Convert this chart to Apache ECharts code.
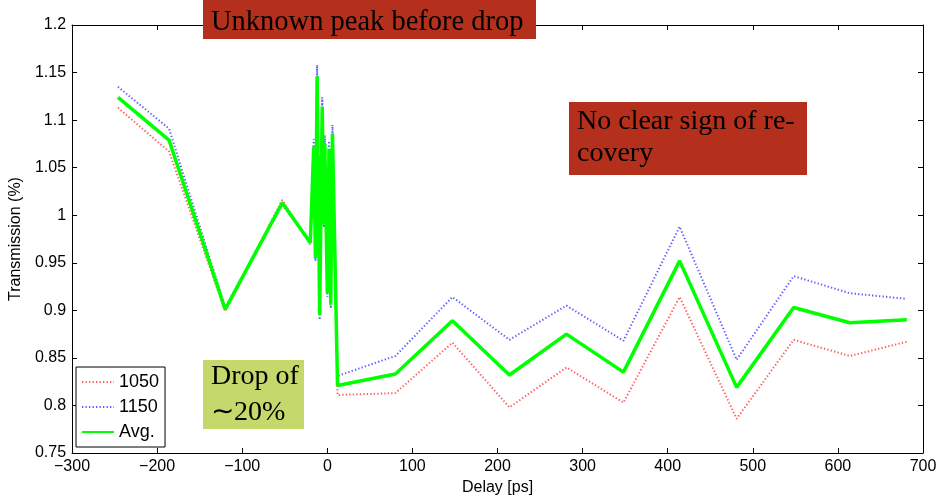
<!DOCTYPE html>
<html>
<head>
<meta charset="utf-8">
<script src="https://cdn.jsdelivr.net/npm/echarts@6/dist/echarts.min.js"></script>
<style>
html,body{margin:0;padding:0;background:#fff;}
#c{width:941px;height:502px;}
</style>
</head>
<body>
<div id="c"></div>
<script>
// Delay values [ps]
const delay = [-246, -186, -120, -53, -20, -16, -14, -12, -9, -6, -4, -3, 0, 2, 4, 6, 12, 80, 147, 214, 281, 348, 414, 481, 548, 614, 681];
// Transmission for 1050
const t1050 = [1.113, 1.067, 0.899, 1.016, 0.969, 1.064, 0.958, 1.135, 0.900, 1.104, 0.993, 1.066, 0.922, 1.062, 0.910, 1.077, 0.811, 0.813, 0.866, 0.798, 0.840, 0.803, 0.914, 0.786, 0.869, 0.852, 0.867];
// Transmission for 1150
const t1150 = [1.135, 1.091, 0.903, 1.011, 0.973, 1.080, 0.952, 1.158, 0.890, 1.124, 0.987, 1.084, 0.914, 1.078, 0.902, 1.095, 0.831, 0.852, 0.914, 0.869, 0.905, 0.868, 0.988, 0.848, 0.936, 0.918, 0.912];
// Average
const tAvg = [1.124, 1.079, 0.901, 1.013, 0.971, 1.072, 0.955, 1.146, 0.895, 1.114, 0.990, 1.075, 0.918, 1.070, 0.906, 1.086, 0.821, 0.833, 0.889, 0.832, 0.875, 0.835, 0.952, 0.819, 0.903, 0.887, 0.890];

const seriesNames = ['1050', '1150', 'Avg.'];
const xTicks = {min: -300, max: 700, step: 100};
const yTicks = {min: 0.75, max: 1.2, step: 0.05};

const annotations = [
  {lines: ['Unknown peak before drop']},
  {lines: ['No clear sign of re-', 'covery']},
  {lines: ['Drop of', '\u223C20%']}
];

const pairs = arr => delay.map((d, i) => [d, arr[i]]);
const axisFont = '"Liberation Sans", Arial, sans-serif';
const serif = '"Liberation Serif", "Times New Roman", serif';

const chart = echarts.init(document.getElementById('c'), null, {renderer: 'canvas'});

const xBase = {
  type: 'value', min: xTicks.min, max: xTicks.max, interval: xTicks.step,
  axisLine: {show: true, onZero: false, lineStyle: {color: '#000', width: 1}},
  axisTick: {show: true, inside: true, length: 5, lineStyle: {color: '#000'}},
  splitLine: {show: false}
};
const yBase = {
  type: 'value', min: yTicks.min, max: yTicks.max, interval: yTicks.step,
  axisLine: {show: true, onZero: false, lineStyle: {color: '#000', width: 1}},
  axisTick: {show: true, inside: true, length: 5, lineStyle: {color: '#000'}},
  splitLine: {show: false}
};

const graphics = [];
function box(x, y, w, h, color, lines, tx, baselines, fs) {
  graphics.push({type: 'rect', left: x, top: y, shape: {width: w, height: h}, style: {fill: color}, z: 100});
  lines.forEach((t, i) => {
    graphics.push({type: 'text', x: tx, y: baselines[i], z: 101,
      style: {text: t, fill: '#000', font: fs + 'px ' + serif, textAlign: 'left', textVerticalAlign: 'bottom'}});
  });
}
box(203, 0, 333, 39, '#b52f1d', annotations[0].lines, 211, [37], 28.5);
box(569, 102, 238, 73, '#b52f1d', annotations[1].lines, 577, [136, 168], 28);
box(203, 360, 101, 69, '#c5d86b', annotations[2].lines, 211, [391, 427], 28);

chart.setOption({
  animation: false,
  backgroundColor: '#fff',
  grid: {left: 72, right: 18, top: 25, bottom: 49},
  legend: {
    orient: 'vertical', left: 76, top: 367,
    backgroundColor: '#fff', borderColor: '#000', borderWidth: 1, borderRadius: 0,
    padding: [6, 6, 6, 5], itemGap: 7, itemWidth: 32, itemHeight: 18,
    itemStyle: {opacity: 0},
    textStyle: {fontSize: 18, fontFamily: axisFont, color: '#000', lineHeight: 18, padding: [0, 0, 0, 0]},
    data: seriesNames,
    z: 50
  },
  xAxis: [
    Object.assign({}, xBase, {
      position: 'bottom',
      axisLabel: {color: '#000', fontSize: 16, fontFamily: axisFont, margin: 6,
        formatter: v => String(v).replace('-', '\u2212')},
      name: 'Delay [ps]', nameLocation: 'middle', nameGap: 21,
      nameTextStyle: {color: '#000', fontSize: 16, fontFamily: axisFont}
    }),
    Object.assign({}, xBase, {position: 'top', axisLabel: {show: false}})
  ],
  yAxis: [
    Object.assign({}, yBase, {
      position: 'left',
      axisLabel: {color: '#000', fontSize: 16, fontFamily: axisFont, margin: 6,
        formatter: v => String(+v.toFixed(2))},
      name: 'Transmission (%)', nameLocation: 'middle', nameGap: 41, nameRotate: 90,
      nameTextStyle: {color: '#000', fontSize: 16, fontFamily: axisFont}
    }),
    Object.assign({}, yBase, {position: 'right', axisLabel: {show: false}})
  ],
  series: [
    {name: seriesNames[0], type: 'line', data: pairs(t1050), symbol: 'none', z: 2,
      lineStyle: {color: 'rgba(255,50,50,0.8)', width: 2, type: [1.3, 2.2]},
      itemStyle: {color: 'rgba(255,50,50,0.8)'}},
    {name: seriesNames[1], type: 'line', data: pairs(t1150), symbol: 'none', z: 3,
      lineStyle: {color: 'rgba(50,50,255,0.8)', width: 2, type: [1.3, 2.2]},
      itemStyle: {color: 'rgba(50,50,255,0.8)'}},
    {name: seriesNames[2], type: 'line', data: pairs(tAvg), symbol: 'none', z: 4,
      lineStyle: {color: '#00ff00', width: 3.5, type: 'solid'},
      itemStyle: {color: '#00ff00'}}
  ],
  graphic: graphics
});
</script>
</body>
</html>
